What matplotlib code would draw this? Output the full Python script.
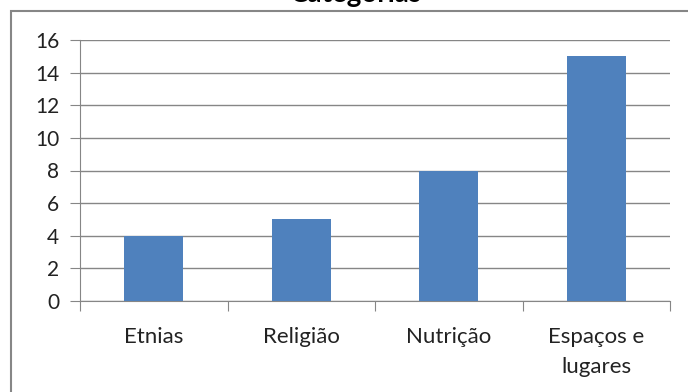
import matplotlib.pyplot as plt
from matplotlib.patches import Rectangle

categorias = ['Etnias', 'Religião', 'Nutrição', 'Espaços e\nlugares']
valores = [4, 5, 8, 15]
yticks = [0, 2, 4, 6, 8, 10, 12, 14, 16]

plt.rcParams['font.family'] = ['Lato', 'DejaVu Sans']

W, H = 688, 392
fig = plt.figure(figsize=(W / 100, H / 100), dpi=100)

# outer chart frame (cut off at right and bottom)
fig.patches.append(Rectangle((11 / W, -0.1), 1.2, 1 - 11 / H + 0.1,
                             transform=fig.transFigure, fill=False,
                             edgecolor='#868686', linewidth=1.5))

ax = fig.add_axes([80 / W, 1 - 301 / H, 590 / W, 261 / H])
x = range(len(categorias))
ax.bar(x, valores, width=0.4, color='#4F81BD', zorder=3)

ax.set_xlim(-0.5, len(categorias) - 0.5)
ax.set_ylim(0, 16)
ax.set_yticks(yticks)
ax.set_yticklabels([str(v) for v in yticks], fontsize=15, color='#222222')
ax.yaxis.grid(True, color='#868686', linewidth=1, zorder=0)

ax.set_xticks([i - 0.5 for i in range(len(categorias) + 1)], minor=False)
ax.set_xticklabels([])
ax.set_xticks(list(x), minor=True)
ax.set_xticklabels(categorias, minor=True, fontsize=16, color='#222222',
                   linespacing=1.6)
ax.tick_params(axis='x', which='minor', length=0, pad=19)
ax.tick_params(axis='x', which='major', length=7, color='#868686', direction='out')
ax.tick_params(axis='y', length=7, color='#868686', direction='out', pad=8)

for s in ['top', 'right']:
    ax.spines[s].set_visible(False)
for s in ['left', 'bottom']:
    ax.spines[s].set_color('#868686')

fig.text(356 / W, 1 + 6 / H, 'Categorias', ha='center', va='center',
         fontsize=20, fontweight='bold')

fig.savefig('out.png', dpi=100)
